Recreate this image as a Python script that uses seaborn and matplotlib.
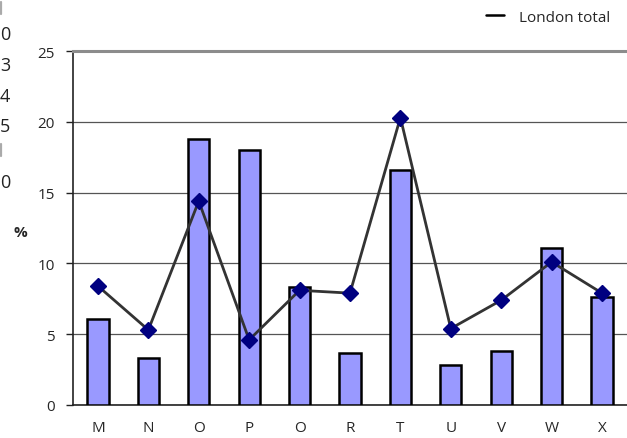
import pandas as pd
import matplotlib
matplotlib.use("Agg")
import matplotlib.pyplot as plt
import seaborn as sns
from matplotlib.lines import Line2D

categories = ["M", "N", "O", "P", "O", "R", "T", "U", "V", "W", "X"]
area_values = [6.1, 3.3, 18.8, 18.0, 8.3, 3.7, 16.6, 2.8, 3.8, 11.1, 7.6]
london_total = [8.4, 5.3, 14.4, 4.6, 8.1, 7.9, 20.3, 5.4, 7.4, 10.1, 7.9]
y_ticks = [0, 5, 10, 15, 20, 25]
side_digits = ["0", "3", "4", "5", "0"]

sns.set_style("white")
plt.rcParams["font.family"] = ["Open Sans", "DejaVu Sans"]

df = pd.DataFrame({"pos": range(len(categories)), "cat": categories,
                   "area": area_values, "london": london_total})

fig = plt.figure(figsize=(6.27, 4.39), dpi=100)
ax = fig.add_axes([0.116, 0.0752, 0.886, 0.8063])

sns.barplot(data=df, x="pos", y="area", width=0.42, color="#9999FF",
            saturation=1, edgecolor="black", linewidth=1.8, ax=ax, zorder=3)
ax.plot(df["pos"], df["london"], color="#333333", lw=2, marker="D",
        markersize=8, markerfacecolor="#000080", markeredgecolor="#000080",
        zorder=4)

ax.set_ylim(0, 25)
ax.set_xlim(-0.5, 10.52)
ax.set_yticks(y_ticks)
ax.set_yticklabels([str(t) for t in y_ticks], fontsize=11)
ax.set_xticks([i - 0.5 for i in range(len(categories) + 1)])
ax.set_xticklabels([])
ax.set_xticks(df["pos"], minor=True)
ax.set_xticklabels(categories, minor=True, fontsize=11)
ax.tick_params(axis="x", which="major", direction="inout", length=10, width=1, color="#222222")
ax.tick_params(axis="x", which="minor", length=0, pad=11)
ax.tick_params(axis="y", direction="out", length=5, width=1, color="#222222", pad=8, left=True)
ax.set_xlabel("")
ax.set_ylabel("%", rotation=0, fontsize=11, fontweight="bold", va="center", ha="center")
ax.yaxis.set_label_coords(-0.095, 0.49)

ax.yaxis.grid(True, color="#555555", lw=0.9, zorder=0)
ax.spines["right"].set_visible(False)
ax.spines["top"].set_color("#8c8c8c")
ax.spines["top"].set_linewidth(2.2)
for s in ["left", "bottom"]:
    ax.spines[s].set_color("#222222")
    ax.spines[s].set_linewidth(1.2)

handle = Line2D([], [], color="black", lw=1.8)
fig.legend([handle], ["London total"], loc="center left",
           bbox_to_anchor=(472 / 627, 1 - 18 / 439), frameon=False,
           fontsize=11, handlelength=1.2, handletextpad=1.0)

# remnants of a neighbouring table at the left edge
for txt, y in zip(side_digits, [35, 66, 97, 127, 183]):
    fig.text(0, 1 - y / 439, txt, ha="left", va="center", fontsize=13, color="#222222")
fig.add_artist(Line2D([0.8 / 627, 0.8 / 627], [1 - 3 / 439, 1 - 15 / 439], color="#aaaaaa", lw=1.6))
fig.add_artist(Line2D([0.8 / 627, 0.8 / 627], [1 - 145 / 439, 1 - 157 / 439], color="#aaaaaa", lw=1.6))

fig.savefig("out.png", dpi=100)
